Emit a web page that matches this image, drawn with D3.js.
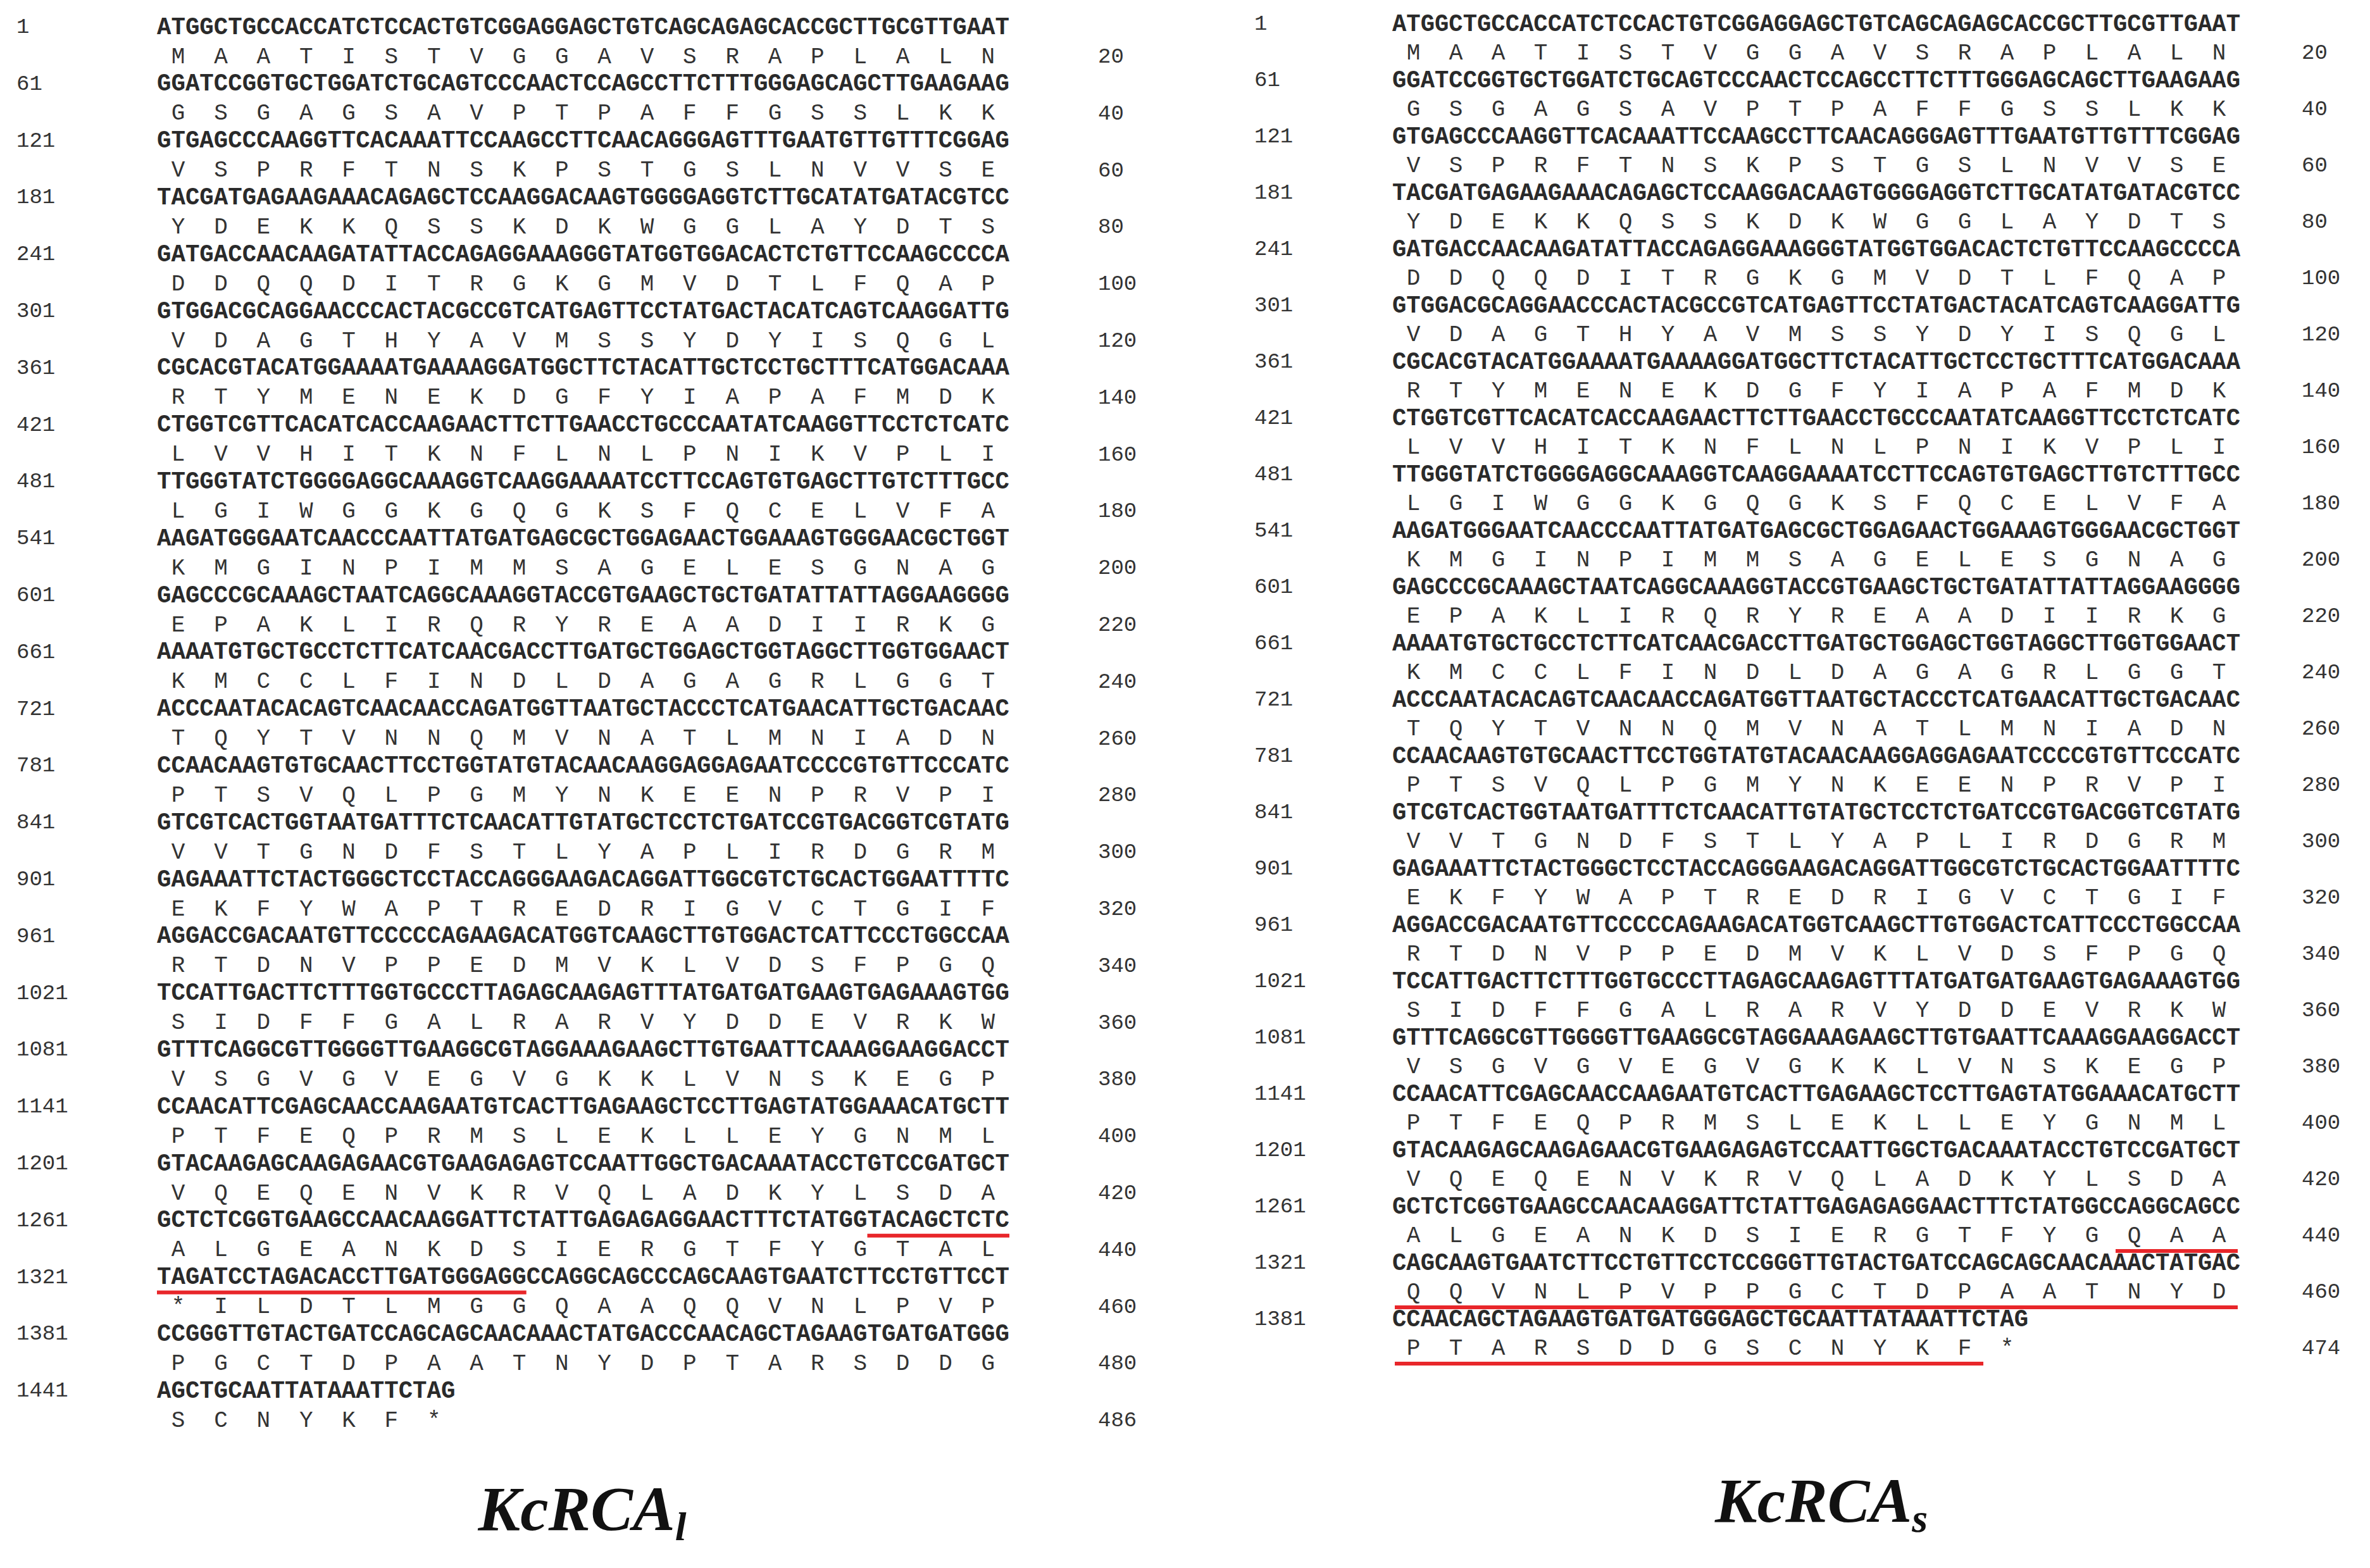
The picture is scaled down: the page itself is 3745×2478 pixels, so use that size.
<!DOCTYPE html>
<html>
<head>
<meta charset="utf-8">
<script src="https://cdn.jsdelivr.net/npm/d3@7"></script>
<style>
  body { margin: 0; background: #fff; }
</style>
</head>
<body>
<div id="chart-area"></div>
<script>
// rows shared by both transcripts (nt 1..1260, aa 1..420)
const commonDna = [
  "ATGGCTGCCACCATCTCCACTGTCGGAGGAGCTGTCAGCAGAGCACCGCTTGCGTTGAAT",
  "GGATCCGGTGCTGGATCTGCAGTCCCAACTCCAGCCTTCTTTGGGAGCAGCTTGAAGAAG",
  "GTGAGCCCAAGGTTCACAAATTCCAAGCCTTCAACAGGGAGTTTGAATGTTGTTTCGGAG",
  "TACGATGAGAAGAAACAGAGCTCCAAGGACAAGTGGGGAGGTCTTGCATATGATACGTCC",
  "GATGACCAACAAGATATTACCAGAGGAAAGGGTATGGTGGACACTCTGTTCCAAGCCCCA",
  "GTGGACGCAGGAACCCACTACGCCGTCATGAGTTCCTATGACTACATCAGTCAAGGATTG",
  "CGCACGTACATGGAAAATGAAAAGGATGGCTTCTACATTGCTCCTGCTTTCATGGACAAA",
  "CTGGTCGTTCACATCACCAAGAACTTCTTGAACCTGCCCAATATCAAGGTTCCTCTCATC",
  "TTGGGTATCTGGGGAGGCAAAGGTCAAGGAAAATCCTTCCAGTGTGAGCTTGTCTTTGCC",
  "AAGATGGGAATCAACCCAATTATGATGAGCGCTGGAGAACTGGAAAGTGGGAACGCTGGT",
  "GAGCCCGCAAAGCTAATCAGGCAAAGGTACCGTGAAGCTGCTGATATTATTAGGAAGGGG",
  "AAAATGTGCTGCCTCTTCATCAACGACCTTGATGCTGGAGCTGGTAGGCTTGGTGGAACT",
  "ACCCAATACACAGTCAACAACCAGATGGTTAATGCTACCCTCATGAACATTGCTGACAAC",
  "CCAACAAGTGTGCAACTTCCTGGTATGTACAACAAGGAGGAGAATCCCCGTGTTCCCATC",
  "GTCGTCACTGGTAATGATTTCTCAACATTGTATGCTCCTCTGATCCGTGACGGTCGTATG",
  "GAGAAATTCTACTGGGCTCCTACCAGGGAAGACAGGATTGGCGTCTGCACTGGAATTTTC",
  "AGGACCGACAATGTTCCCCCAGAAGACATGGTCAAGCTTGTGGACTCATTCCCTGGCCAA",
  "TCCATTGACTTCTTTGGTGCCCTTAGAGCAAGAGTTTATGATGATGAAGTGAGAAAGTGG",
  "GTTTCAGGCGTTGGGGTTGAAGGCGTAGGAAAGAAGCTTGTGAATTCAAAGGAAGGACCT",
  "CCAACATTCGAGCAACCAAGAATGTCACTTGAGAAGCTCCTTGAGTATGGAAACATGCTT",
  "GTACAAGAGCAAGAGAACGTGAAGAGAGTCCAATTGGCTGACAAATACCTGTCCGATGCT"
]
const commonProt = [
  "MAATISTVGGAVSRAPLALN", "GSGAGSAVPTPAFFGSSLKK", "VSPRFTNSKPSTGSLNVVSE",
  "YDEKKQSSKDKWGGLAYDTS", "DDQQDITRGKGMVDTLFQAP", "VDAGTHYAVMSSYDYISQGL",
  "RTYMENEKDGFYIAPAFMDK", "LVVHITKNFLNLPNIKVPLI", "LGIWGGKGQGKSFQCELVFA",
  "KMGINPIMMSAGELESGNAG", "EPAKLIRQRYREAADIIRKG", "KMCCLFINDLDAGAGRLGGT",
  "TQYTVNNQMVNATLMNIADN", "PTSVQLPGMYNKEENPRVPI", "VVTGNDFSTLYAPLIRDGRM",
  "EKFYWAPTREDRIGVCTGIF", "RTDNVPPEDMVKLVDSFPGQ", "SIDFFGALRARVYDDEVRKW",
  "VSGVGVEGVGKKLVNSKEGP", "PTFEQPRMSLEKLLEYGNML", "VQEQENVKRVQLADKYLSDA"
]
// long isoform tail
const tailDnaL = [
  "GCTCTCGGTGAAGCCAACAAGGATTCTATTGAGAGAGGAACTTTCTATGGTACAGCTCTC",
  "TAGATCCTAGACACCTTGATGGGAGGCCAGGCAGCCCAGCAAGTGAATCTTCCTGTTCCT",
  "CCGGGTTGTACTGATCCAGCAGCAACAAACTATGACCCAACAGCTAGAAGTGATGATGGG",
  "AGCTGCAATTATAAATTCTAG"
]
const tailProtL = ["ALGEANKDSIERGTFYGTAL", "*ILDTLMGGQAAQQVNLPVP", "PGCTDPAATNYDPTARSDDG", "SCNYKF*"]
const endNumL = [20,40,60,80,100,120,140,160,180,200,220,240,260,280,300,320,340,360,380,400,420,440,460,480,486]
// short isoform tail
const tailDnaS = [
  "GCTCTCGGTGAAGCCAACAAGGATTCTATTGAGAGAGGAACTTTCTATGGCCAGGCAGCC",
  "CAGCAAGTGAATCTTCCTGTTCCTCCGGGTTGTACTGATCCAGCAGCAACAAACTATGAC",
  "CCAACAGCTAGAAGTGATGATGGGAGCTGCAATTATAAATTCTAG"
]
const tailProtS = ["ALGEANKDSIERGTFYGQAA", "QQVNLPVPPGCTDPAATNYD", "PTARSDDGSCNYKF*"]
const endNumS = [20,40,60,80,100,120,140,160,180,200,220,240,260,280,300,320,340,360,380,400,420,440,460,474]
// underlines: [row, first char, last char (exclusive)]
const ulDnaL = [[21, 50, 60], [22, 0, 26]]
const ulProtS = [[21, 17, 20], [22, 0, 20], [23, 0, 14]]

const svg = d3.select("#chart-area").append("svg")
  .attr("width", 3745).attr("height", 2478)
svg.append("rect").attr("width", 3745).attr("height", 2478).attr("fill", "#fff")

function panel(cfg) {
  const dna = commonDna.concat(cfg.tailDna)
  const prot = commonProt.concat(cfg.tailProt)
  const g = svg.append("g")
  const y = d3.scaleLinear().domain([0, 1]).range([cfg.y0, cfg.y0 + cfg.step])
  const x = d3.scaleLinear().domain([0, 60]).range([cfg.x0, cfg.x1]) // nucleotide column

  // start numbers
  g.selectAll(".num").data(dna).enter().append("text")
    .attr("x", cfg.numX).attr("y", (d, i) => y(i))
    .attr("dominant-baseline", "central")
    .attr("font-family", "Liberation Mono, monospace").attr("font-size", 34)
    .attr("fill", "#333")
    .text((d, i) => i * 60 + 1)

  // nucleotide rows
  g.selectAll(".dna").data(dna).enter().append("text")
    .attr("x", x(0)).attr("y", (d, i) => y(i))
    .attr("dominant-baseline", "central")
    .attr("font-family", "Liberation Mono, monospace").attr("font-size", 38)
    .attr("font-weight", "bold").attr("fill", "#2a2a2a")
    .attr("textLength", d => x(d.length) - x(0)).attr("lengthAdjust", "spacingAndGlyphs")
    .text(d => d)

  // amino acid letters
  prot.forEach((p, i) => {
    g.selectAll(null).data(p.split("")).enter().append("text")
      .attr("x", (d, j) => x(3 * j + 1.5)).attr("y", y(i) + cfg.protOff)
      .attr("text-anchor", "middle").attr("dominant-baseline", "central")
      .attr("font-family", "Liberation Mono, monospace").attr("font-size", 36)
      .attr("fill", "#333")
      .text(d => d)
  })

  // end numbers
  g.selectAll(".end").data(cfg.endNum).enter().append("text")
    .attr("x", cfg.endX).attr("y", (d, i) => y(i) + cfg.protOff)
    .attr("dominant-baseline", "central")
    .attr("font-family", "Liberation Mono, monospace").attr("font-size", 34)
    .attr("fill", "#333")
    .text(d => d)

  // red underlines
  g.selectAll(".ul").data(cfg.ulDna || []).enter().append("line")
    .attr("x1", d => x(d[1])).attr("x2", d => x(d[2]))
    .attr("y1", d => y(d[0]) + 24).attr("y2", d => y(d[0]) + 24)
    .attr("stroke", "#e8262a").attr("stroke-width", 6)
  g.selectAll(".ulp").data(cfg.ulProt || []).enter().append("line")
    .attr("x1", d => x(3 * d[1]) + 4).attr("x2", d => x(3 * d[2]) - 4)
    .attr("y1", d => y(d[0]) + cfg.protOff + 24).attr("y2", d => y(d[0]) + cfg.protOff + 24)
    .attr("stroke", "#e8262a").attr("stroke-width", 6)

  // title
  const t = g.append("text").attr("x", cfg.titleX).attr("y", cfg.titleY)
    .attr("text-anchor", "middle")
    .attr("font-family", "Liberation Serif, serif").attr("font-style", "italic")
    .attr("font-weight", "bold").attr("font-size", 100).attr("fill", "#111")
  t.append("tspan").text("KcRCA")
  t.append("tspan").attr("font-size", 64).attr("dy", 16).text(cfg.sub)
}

panel({ tailDna: tailDnaL, tailProt: tailProtL, endNum: endNumL, ulDna: ulDnaL,
  y0: 43, step: 89.8, protOff: 47, numX: 26, x0: 248, x1: 1595, endX: 1735,
  titleX: 920, titleY: 2418, sub: "l" })
panel({ tailDna: tailDnaS, tailProt: tailProtS, endNum: endNumS, ulProt: ulProtS,
  y0: 38, step: 89.0, protOff: 46, numX: 1982, x0: 2200, x1: 3540, endX: 3637,
  titleX: 2878, titleY: 2405, sub: "s" })
</script>
</body>
</html>
